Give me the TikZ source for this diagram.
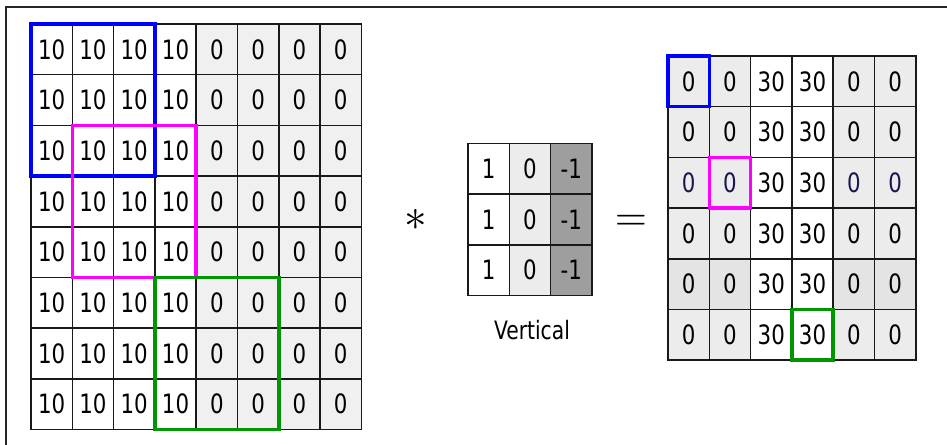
\documentclass[tikz,border=0pt]{standalone}
\usepackage{graphicx}
\usepackage{fontspec}
\setmainfont{DejaVu Sans}[FakeStretch=0.8]
\definecolor{lgray}{HTML}{F0F0F0}
\definecolor{kgray}{HTML}{ECECEC}
\definecolor{kdark}{HTML}{9E9E9E}
\definecolor{rgray}{HTML}{ECECEC}
\definecolor{rgrayb}{HTML}{E4E4E4}
\definecolor{navytext}{HTML}{18184E}
\definecolor{hlblue}{HTML}{0000FF}
\definecolor{hlmag}{HTML}{FF00FF}
\definecolor{hlgreen}{HTML}{009600}
\begin{document}
\begin{tikzpicture}[x=0.75pt,y=-0.75pt,
  cell/.style={draw=black!90, line width=1.1pt, minimum width=31pt,
    minimum height=38pt, inner sep=0pt, outer sep=0pt,
    font=\fontsize{20}{20}\selectfont},
  hlbox/.style={line width=2.6pt, line join=miter},
  frameline/.style={line width=1.5pt, draw=black!85},
  operator/.style={inner sep=0pt}]
\useasboundingbox (0,0) rectangle (947,445);

% outer frame (top and left edges)
\draw[frameline] (947,7) -- (6,7) -- (6,445);

% input image, 8x8
\foreach \r in {0,...,7}{
  \foreach \c in {0,...,7}{
    \ifnum\c<4 \def\cellval{10}\def\cellfill{white}\else\def\cellval{0}\def\cellfill{lgray}\fi
    \node[cell, fill=\cellfill] (L-\r-\c) at ({31+41.3*(\c+0.5)},{24+50.7*(\r+0.5)}) {\cellval};
  }
}

% filter, 3x3
\foreach \r in {0,1,2}{
  \node[cell, fill=white] (K-\r-0) at ({468+41.3*0.5},{143.5+50.7*(\r+0.5)}) {1};
  \node[cell, fill=kgray] (K-\r-1) at ({468+41.3*1.5},{143.5+50.7*(\r+0.5)}) {0};
  \node[cell, fill=kdark] (K-\r-2) at ({468+41.3*2.5},{143.5+50.7*(\r+0.5)}) {-1};
}
\node[font=\fontsize{19}{19}\selectfont] (lbl) at (532,330) {Vertical};

% operators
\node[operator] (ast) at (416,220) {\scalebox{3.4}{$\ast$}};
\node[operator] (eq) at (631,223) {\scalebox{3.1}{$=$}};

% output, 6x6
\foreach \r in {0,...,5}{
  \foreach \c in {0,...,5}{
    \ifnum\c=2 \def\cellval{30}\def\cellfill{white}\def\celltext{black}%
    \else\ifnum\c=3 \def\cellval{30}\def\cellfill{white}\def\celltext{black}%
    \else \def\cellval{0}\def\celltext{black}%
      \ifnum\r=4 \def\cellfill{rgrayb}\else\def\cellfill{rgray}\fi
      \ifnum\r=2 \def\celltext{navytext}\fi
    \fi\fi
    \node[cell, fill=\cellfill, text=\celltext] (R-\r-\c) at ({668+41.3*(\c+0.5)},{56+50.7*(\r+0.5)}) {\cellval};
  }
}

% receptive fields and the outputs they produce
\draw[hlbox, hlblue] (L-0-0.north west) rectangle (L-2-2.south east);
\draw[hlbox, hlmag] (L-2-1.north west) rectangle (L-4-3.south east);
\draw[hlbox, hlgreen] (L-5-3.north west) rectangle (L-7-5.south east);
\draw[hlbox, hlblue] (R-0-0.north west) rectangle (R-0-0.south east);
\draw[hlbox, hlmag] (R-2-1.north west) rectangle (R-2-1.south east);
\draw[hlbox, hlgreen] (R-5-3.north west) rectangle (R-5-3.south east);
\end{tikzpicture}
\end{document}
